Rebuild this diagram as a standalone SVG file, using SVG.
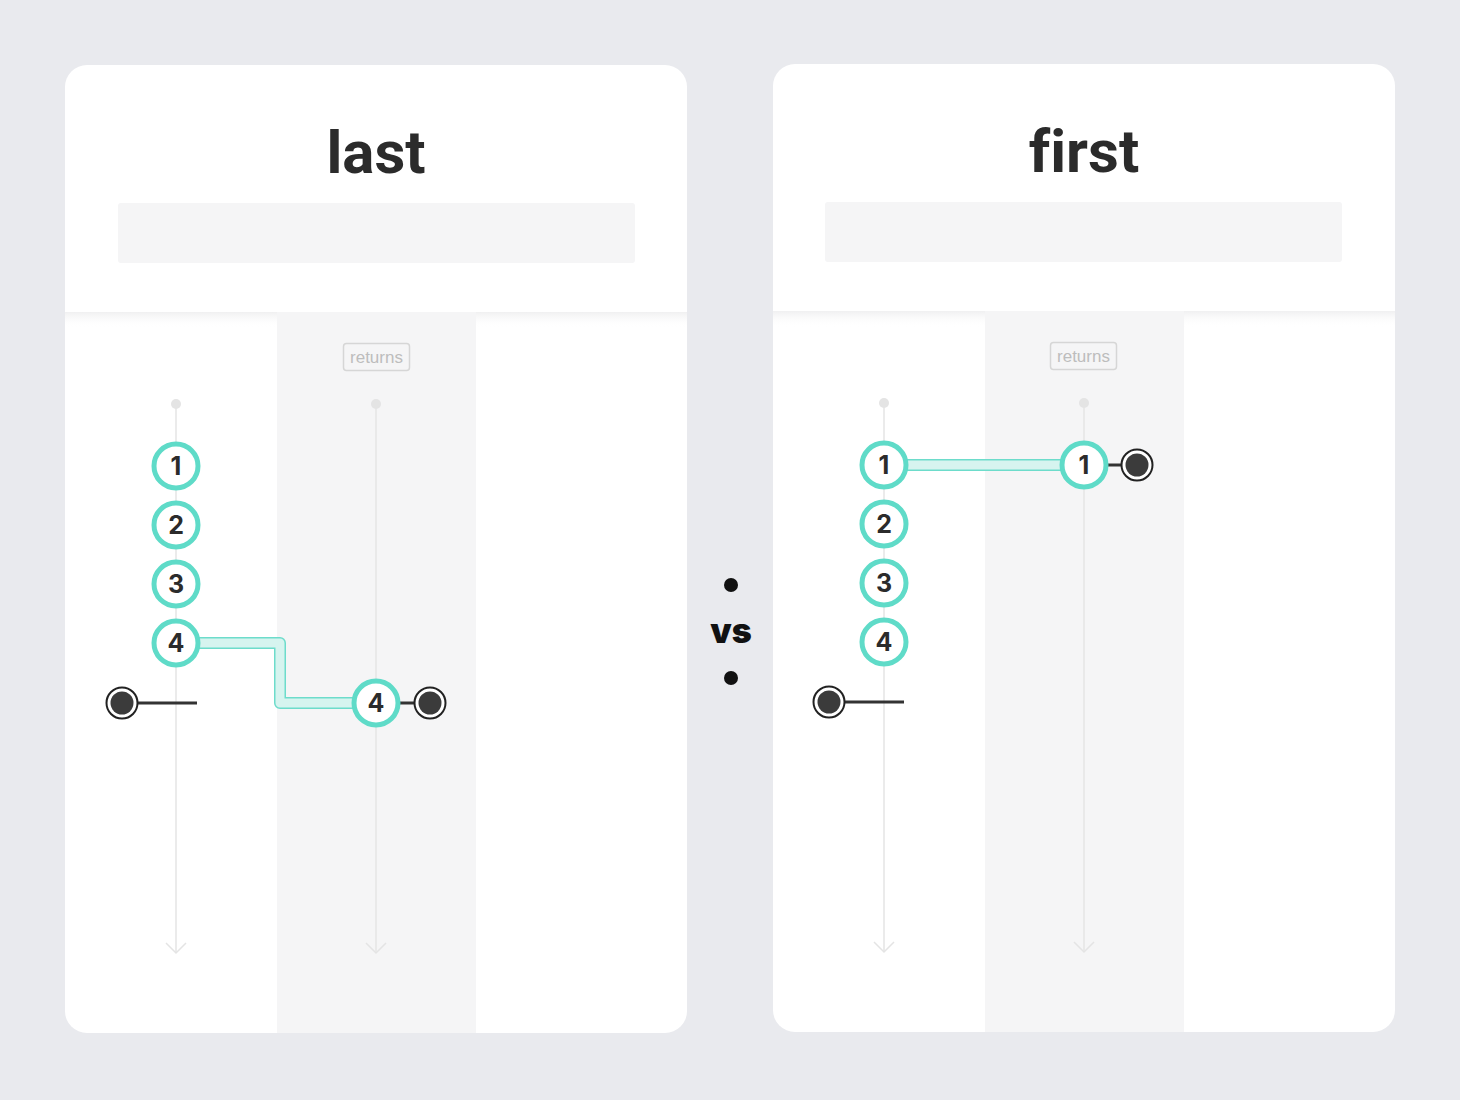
<svg xmlns="http://www.w3.org/2000/svg" width="1460" height="1100" viewBox="0 0 1460 1100">
  <defs>
    <linearGradient id="hdrShade" x1="0" y1="0" x2="0" y2="1">
      <stop offset="0" stop-color="#f0f0f1"/>
      <stop offset="1" stop-color="#ffffff" stop-opacity="0"/>
    </linearGradient>
    <clipPath id="clipL"><rect x="65" y="65" width="622" height="968" rx="22"/></clipPath>
    <clipPath id="clipR"><rect x="773" y="64" width="622" height="968" rx="22"/></clipPath>
  </defs>
  <style>
    .card { fill: #ffffff; }
    .bar { fill: #f5f5f6; }
    .col { fill: #f5f5f6; }
    .title { font-family: Roboto, "Liberation Sans", sans-serif; font-weight: 700; font-size: 60px; fill: #2b2b2b; text-anchor: middle; font-variant-ligatures: none; font-feature-settings: "liga" 0; }
    .tag { fill: none; stroke: #d6d6d6; stroke-width: 1.5; }
    .tagtxt { font-family: "Liberation Sans", Arial, sans-serif; font-size: 17px; fill: #bdbdbd; text-anchor: middle; }
    .tl { stroke: #e4e4e4; stroke-width: 1.5; fill: none; }
    .tldot { fill: #e4e4e4; }
    .node { fill: #ffffff; stroke: #5fdbc8; stroke-width: 5; }
    .num { font-family: Inter, "Noto Sans", sans-serif; font-weight: 700; font-size: 25px; fill: #2b2b2b; text-anchor: middle; }
    .bandOut { fill: none; stroke: #6ddccb; stroke-width: 12; stroke-linejoin: round; }
    .bandIn { fill: none; stroke: #d6f4ef; stroke-width: 9; stroke-linejoin: round; }
    .stub { stroke: #333333; stroke-width: 3; }
    .endOut { fill: #ffffff; stroke: #222222; stroke-width: 2; }
    .endIn { fill: #3b3b3b; }
    .vs { font-family: Inter, "Liberation Sans", sans-serif; font-weight: 900; font-size: 34px; fill: #111111; text-anchor: middle; }
  </style>

  <rect x="0" y="0" width="1460" height="1100" fill="#e9eaee"/>

  <!-- Left card: last -->
  <g id="card-last">
    <rect class="card" x="65" y="65" width="622" height="968" rx="22"/>
    <g clip-path="url(#clipL)">
      <rect x="65" y="312" width="622" height="16" fill="url(#hdrShade)"/>
      <rect class="col" x="277" y="312" width="199" height="721"/>
    </g>
    <text class="title" x="376" y="173">last</text>
    <rect class="bar" x="118" y="203" width="517" height="60" rx="3"/>
    <rect class="tag" x="343.5" y="343.5" width="66" height="27" rx="3"/>
    <text class="tagtxt" x="376.5" y="362.5">returns</text>
  </g>

  <!-- Right card: first -->
  <g id="card-first">
    <rect class="card" x="773" y="64" width="622" height="968" rx="22"/>
    <g clip-path="url(#clipR)">
      <rect x="773" y="311" width="622" height="16" fill="url(#hdrShade)"/>
      <rect class="col" x="985" y="311" width="199" height="721"/>
    </g>
    <text class="title" x="1084" y="172">first</text>
    <rect class="bar" x="825" y="202" width="517" height="60" rx="3"/>
    <rect class="tag" x="1050.5" y="342.5" width="66" height="27" rx="3"/>
    <text class="tagtxt" x="1083.5" y="361.5">returns</text>
  </g>

  <!-- Timelines -->
  <g id="timelines">
    <circle class="tldot" cx="176" cy="404" r="5"/>
    <line class="tl" x1="176" y1="404" x2="176" y2="953"/>
    <polyline class="tl" points="166,943 176,953 186,943"/>
    <circle class="tldot" cx="376" cy="404" r="5"/>
    <line class="tl" x1="376" y1="404" x2="376" y2="953"/>
    <polyline class="tl" points="366,943 376,953 386,943"/>
    <circle class="tldot" cx="884" cy="403" r="5"/>
    <line class="tl" x1="884" y1="403" x2="884" y2="952"/>
    <polyline class="tl" points="874,942 884,952 894,942"/>
    <circle class="tldot" cx="1084" cy="403" r="5"/>
    <line class="tl" x1="1084" y1="403" x2="1084" y2="952"/>
    <polyline class="tl" points="1074,942 1084,952 1094,942"/>
  </g>

  <!-- Connectors -->
  <g id="connectors">
    <path class="bandOut" d="M196,643 H280 V703 H356"/>
    <path class="bandIn" d="M196,643 H280 V703 H356"/>
    <path class="bandOut" d="M904,465 H1064"/>
    <path class="bandIn" d="M904,465 H1064"/>
    <line class="stub" x1="136" y1="703" x2="197" y2="703"/>
    <line class="stub" x1="398" y1="703" x2="416" y2="703"/>
    <line class="stub" x1="843" y1="702" x2="904" y2="702"/>
    <line class="stub" x1="1106" y1="465" x2="1123" y2="465"/>
  </g>

  <!-- Left card nodes -->
  <g id="last-1"><circle class="node" cx="176" cy="466" r="22"/><text class="num" x="176" y="475">1</text></g>
  <g id="last-2"><circle class="node" cx="176" cy="525" r="22"/><text class="num" x="176" y="534">2</text></g>
  <g id="last-3"><circle class="node" cx="176" cy="584" r="22"/><text class="num" x="176" y="593">3</text></g>
  <g id="last-4"><circle class="node" cx="176" cy="643" r="22"/><text class="num" x="176" y="652">4</text></g>
  <g id="last-complete"><circle class="endOut" cx="122" cy="703" r="15.5"/><circle class="endIn" cx="122" cy="703" r="11.5"/></g>
  <g id="last-ret-4"><circle class="node" cx="376" cy="703" r="22"/><text class="num" x="376" y="712">4</text></g>
  <g id="last-ret-complete"><circle class="endOut" cx="430" cy="703" r="15.5"/><circle class="endIn" cx="430" cy="703" r="11.5"/></g>

  <!-- Right card nodes -->
  <g id="first-1"><circle class="node" cx="884" cy="465" r="22"/><text class="num" x="884" y="474">1</text></g>
  <g id="first-2"><circle class="node" cx="884" cy="524" r="22"/><text class="num" x="884" y="533">2</text></g>
  <g id="first-3"><circle class="node" cx="884" cy="583" r="22"/><text class="num" x="884" y="592">3</text></g>
  <g id="first-4"><circle class="node" cx="884" cy="642" r="22"/><text class="num" x="884" y="651">4</text></g>
  <g id="first-complete"><circle class="endOut" cx="829" cy="702" r="15.5"/><circle class="endIn" cx="829" cy="702" r="11.5"/></g>
  <g id="first-ret-1"><circle class="node" cx="1084" cy="465" r="22"/><text class="num" x="1084" y="474">1</text></g>
  <g id="first-ret-complete"><circle class="endOut" cx="1137" cy="465" r="15.5"/><circle class="endIn" cx="1137" cy="465" r="11.5"/></g>

  <!-- vs -->
  <g id="vs">
    <circle cx="731" cy="585" r="7" fill="#111111"/>
    <text class="vs" x="731" y="643">vs</text>
    <circle cx="731" cy="678" r="7" fill="#111111"/>
  </g>
</svg>
